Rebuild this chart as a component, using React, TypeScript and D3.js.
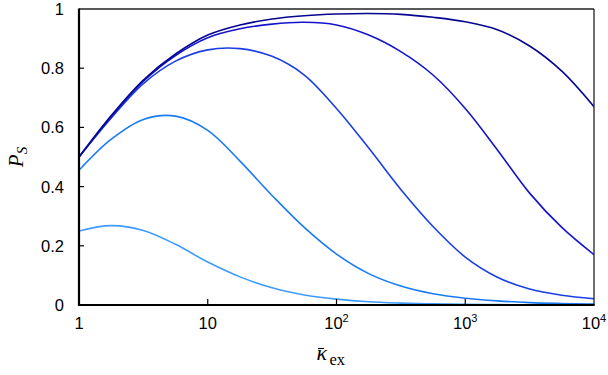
import React from "react";
import * as d3 from "d3";

// x samples (quarter decades)
const kappa = [1, 1.78, 3.16, 5.62, 10, 17.8, 31.6, 56.2, 100, 178, 316, 562, 1000, 1778, 3162, 5623, 10000];

// P_S curves, lightest -> darkest
const seriesA = [0.25, 0.268, 0.252, 0.205, 0.145, 0.095, 0.058, 0.034, 0.02, 0.011, 0.0065, 0.0037, 0.002, 0.0012, 0.0007, 0.0004, 0.0002];
const seriesB = [0.455, 0.56, 0.627, 0.638, 0.59, 0.486, 0.37, 0.262, 0.172, 0.106, 0.064, 0.038, 0.023, 0.014, 0.008, 0.005, 0.003];
const seriesC = [0.5, 0.632, 0.748, 0.824, 0.862, 0.866, 0.84, 0.777, 0.664, 0.53, 0.39, 0.265, 0.162, 0.094, 0.054, 0.033, 0.021];
const seriesD = [0.5, 0.636, 0.756, 0.843, 0.903, 0.933, 0.949, 0.955, 0.946, 0.912, 0.856, 0.777, 0.664, 0.524, 0.378, 0.262, 0.17];
const seriesE = [0.5, 0.64, 0.76, 0.848, 0.912, 0.946, 0.966, 0.977, 0.983, 0.985, 0.982, 0.972, 0.957, 0.93, 0.875, 0.79, 0.67];

const seriesList = [seriesA, seriesB, seriesC, seriesD, seriesE];
const colors = ["#3d9bff", "#1a7bf5", "#1a3ee2", "#1414cc", "#06068f"];

const xTicks = [1, 10, 100, 1000, 10000];
const xTickLabels = [["1", ""], ["10", ""], ["10", "2"], ["10", "3"], ["10", "4"]];
const yTicks = [0, 0.2, 0.4, 0.6, 0.8, 1];
const yTickLabels = ["0", "0.2", "0.4", "0.6", "0.8", "1"];

const W = 608;
const H = 375;
const margin = { top: 9, right: 14, bottom: 70, left: 79 };

export default function App() {
  const x = d3.scaleLog().domain([1, 10000]).range([margin.left, W - margin.right]);
  const y = d3.scaleLinear().domain([0, 1]).range([H - margin.bottom, margin.top]);

  const line = d3.line<number>()
    .x((_, i) => x(kappa[i]))
    .y(d => y(d))
    .curve(d3.curveCatmullRom.alpha(0.5));

  const x0 = x(1), x1 = x(10000), y0 = y(0), y1 = y(1);
  const xc = (x0 + x1) / 2;
  const sans = "'Liberation Sans', Arial, sans-serif";
  const serif = "'Liberation Serif', 'Times New Roman', serif";

  return (
    <svg width={W} height={H} style={{ position: "absolute", left: 0, top: 0, background: "#fff" }}>
      <defs>
        <clipPath id="plot">
          <rect x={x0} y={y1} width={x1 - x0} height={y0 - y1} />
        </clipPath>
      </defs>

      <g clipPath="url(#plot)">
        {seriesList.map((s, i) => (
          <path key={i} d={line(s) || ""} fill="none" stroke={colors[i]} strokeWidth={1.6} />
        ))}
      </g>

      {/* frame: thin top/right, thick left/bottom */}
      <line x1={x0} x2={x1} y1={y1} y2={y1} stroke="#222" strokeWidth={1.3} />
      <line x1={x1} x2={x1} y1={y1} y2={y0} stroke="#222" strokeWidth={1.3} />
      <line x1={x0} x2={x0} y1={y1 - 0.6} y2={y0 + 1} stroke="#000" strokeWidth={2.2} />
      <line x1={x0 - 1} x2={x1 + 0.6} y1={y0} y2={y0} stroke="#000" strokeWidth={2.2} />

      {/* y ticks */}
      {yTicks.map((t, i) => (
        <g key={"y" + i}>
          {t > 0 && t < 1 && (
            <line x1={x0} x2={x0 + 5} y1={y(t)} y2={y(t)} stroke="#000" strokeWidth={1.2} />
          )}
          <text x={x0 - 15} y={y(t)} dy="0.36em" textAnchor="end" fontFamily={sans} fontSize={16.5} fill="#000">
            {yTickLabels[i]}
          </text>
        </g>
      ))}

      {/* x ticks */}
      {xTicks.map((t, i) => (
        <g key={"x" + i}>
          {t > 1 && t < 10000 && (
            <line x1={x(t)} x2={x(t)} y1={y0} y2={y0 - 6} stroke="#000" strokeWidth={1.2} />
          )}
          <text x={x(t)} y={y0 + 24} textAnchor="middle" fontFamily={sans} fontSize={16.5} fill="#000">
            {xTickLabels[i][0]}
            {xTickLabels[i][1] && (
              <tspan fontSize={11} dy={-7}>{xTickLabels[i][1]}</tspan>
            )}
          </text>
        </g>
      ))}

      {/* x axis title: kappa-bar with subscript ex */}
      <text x={xc - 20} y={y0 + 55} fontFamily={serif} fontSize={22} fontStyle="italic" fill="#000">
        {"\u03BA"}
      </text>
      <line x1={xc - 18.5} x2={xc - 12.5} y1={y0 + 43.5} y2={y0 + 43.5} stroke="#000" strokeWidth={1.1} />
      <text x={xc - 7} y={y0 + 60} fontFamily={serif} fontSize={16.5} fill="#000">
        ex
      </text>

      {/* y axis title */}
      <text transform={`translate(23, ${(y0 + y1) / 2}) rotate(-90)`} textAnchor="middle" fontFamily={serif} fontSize={21} fill="#000">
        <tspan fontStyle="italic">P</tspan>
        <tspan fontStyle="italic" fontSize={15} dy={4}>S</tspan>
      </text>
    </svg>
  );
}
